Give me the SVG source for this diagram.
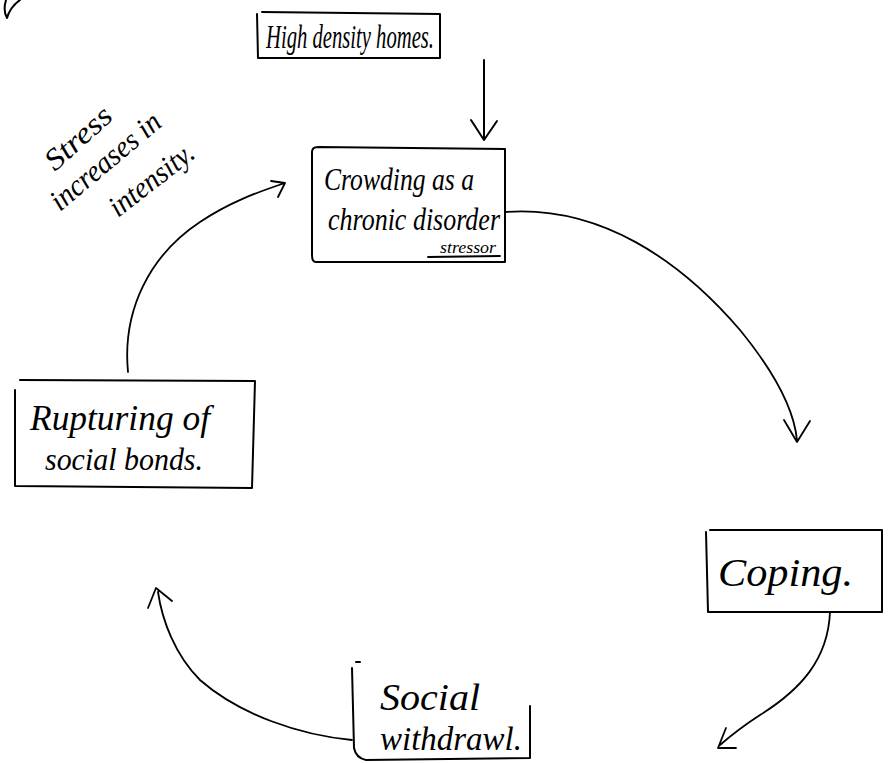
<svg xmlns="http://www.w3.org/2000/svg" width="890" height="763" viewBox="0 0 890 763">
<style>
.b{fill:none;stroke:#000;stroke-width:2;stroke-linecap:round;stroke-linejoin:round}
.c{fill:none;stroke:#000;stroke-width:1.8;stroke-linecap:round;stroke-linejoin:round}
.t{font-family:"Liberation Serif",serif;font-style:italic;fill:#000}
</style>
<rect width="890" height="763" fill="#fff"/>
<path class="b" d="M6 0 C4 7 4 13 7 18 C9 11 13 5 20 0"/>
<g id="node-high">
<path class="b" d="M262 12 L440 14 L440 58 L258 58 L257 14"/>
<text class="t" x="266" y="48" font-size="34" textLength="168" lengthAdjust="spacingAndGlyphs">High density homes.</text>
</g>
<g id="node-crowding">
<path class="b" d="M318 147 L505 149 L505 262 L316 262 Q312 262 312 255 L312 152 Q312 147 318 147"/>
<text class="t" x="324" y="190" font-size="32" textLength="150" lengthAdjust="spacingAndGlyphs">Crowding as a</text>
<text class="t" x="328" y="230" font-size="32" textLength="172" lengthAdjust="spacingAndGlyphs">chronic disorder</text>
<text class="t" x="440" y="253" font-size="17" textLength="56" lengthAdjust="spacingAndGlyphs">stressor</text>
<path class="c" d="M428 257 L500 256"/>
</g>
<g id="node-coping">
<path class="b" d="M710 530 L882 530 L882 612 L708 612 L706 532"/>
<text class="t" x="718" y="586" font-size="40" textLength="135" lengthAdjust="spacingAndGlyphs">Coping.</text>
</g>
<g id="node-social">
<path class="b" d="M356 662 L360 662 M352 668 L354 748 Q356 758 366 760 L530 758 L530 706"/>
<text class="t" x="380" y="710" font-size="38" textLength="100" lengthAdjust="spacingAndGlyphs">Social</text>
<text class="t" x="380" y="750" font-size="34" textLength="142" lengthAdjust="spacingAndGlyphs">withdrawl.</text>
</g>
<g id="node-rupturing">
<path class="b" d="M20 380 L255 381 L252 488 L15 486 L15 390"/>
<text class="t" x="30" y="430" font-size="36" textLength="180" lengthAdjust="spacingAndGlyphs">Rupturing of</text>
<text class="t" x="45" y="470" font-size="32" textLength="158" lengthAdjust="spacingAndGlyphs">social bonds.</text>
</g>
<g id="label-stress">
<text class="t" font-size="30" transform="translate(55 172) rotate(-42)" textLength="80" lengthAdjust="spacingAndGlyphs">Stress</text>
<text class="t" font-size="30" transform="translate(60 212) rotate(-40)" textLength="135" lengthAdjust="spacingAndGlyphs">increases in</text>
<text class="t" font-size="30" transform="translate(118 218) rotate(-38)" textLength="100" lengthAdjust="spacingAndGlyphs">intensity.</text>
</g>
<g id="connectors">
<path class="b" d="M484 60 L484 138 M471 120 L484 140 L497 121"/>
<path class="c" d="M505 212 C600 205 680 260 740 330 C785 385 795 420 797 440 M784 420 L797 442 L810 421"/>
<path class="c" d="M830 612 C828 660 800 690 760 715 C740 728 728 738 720 745 M726 728 L718 748 L736 748"/>
<path class="c" d="M352 740 C300 735 240 715 200 680 C175 655 162 620 158 592 M148 608 L156 588 L172 601"/>
<path class="c" d="M128 372 C122 310 150 255 200 222 C230 202 258 192 285 183 M271 181 L285 183 L278 197"/>
</g>
</svg>
